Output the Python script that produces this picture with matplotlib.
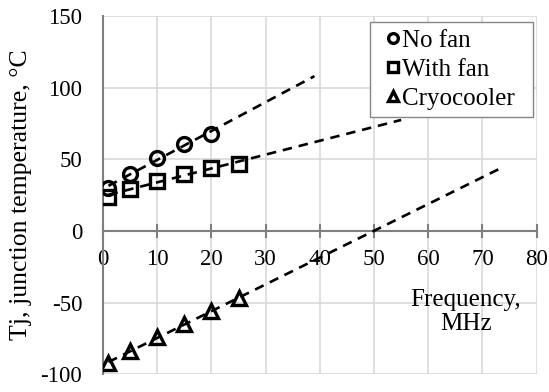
import numpy as np
import matplotlib
matplotlib.use("Agg")
import matplotlib.pyplot as plt

plt.rcParams['font.family'] = ['Liberation Serif', 'DejaVu Serif']
plt.rcParams['axes.unicode_minus'] = False

freq_nofan = [1, 5, 10, 15, 20]
tj_nofan = [30, 40, 51, 61, 68]
freq_fan = [1, 5, 10, 15, 20, 25]
tj_fan = [24, 29, 35, 40, 44, 47]
freq_cryo = [1, 5, 10, 15, 20, 25]
tj_cryo = [-92, -84, -74, -65, -56, -47]

# where the excel-style trendlines stop
trend_end = [39, 55, 73.5]

xticks = [0, 10, 20, 30, 40, 50, 60, 70, 80]
yticks = [-100, -50, 0, 50, 100, 150]

fig = plt.figure(figsize=(5.49, 3.92), dpi=100)
ax = fig.add_axes([0.1876, 0.0452, 0.79, 0.9140])

series = [
    (freq_nofan, tj_nofan, 'o', "No fan"),
    (freq_fan, tj_fan, 's', "With fan"),
    (freq_cryo, tj_cryo, '^', "Cryocooler"),
]

for (x, y, m, lab), xe in zip(series, trend_end):
    k, b = np.polyfit(x, y, 1)
    xs = np.array([x[0], xe])
    ax.plot(xs, k * xs + b, '--', color='black', lw=1.9, dashes=(3.6, 2.6), zorder=3)
    ax.plot(x, y, m, mfc='none', mec='black', mew=2.4, ms=10, ls='none',
            label=lab, zorder=4)

ax.set_xlim(0, 80)
ax.set_ylim(-100, 150)
ax.set_xticks(xticks)
ax.set_yticks(yticks)
ax.grid(color='#d9d9d9', lw=1.2)
ax.set_axisbelow(True)

for s in ['top', 'right']:
    ax.spines[s].set_visible(False)
ax.spines['bottom'].set_position(('data', 0))
ax.spines['bottom'].set_color('#7f7f7f')
ax.spines['left'].set_color('#7f7f7f')
ax.spines['bottom'].set_linewidth(1.5)
ax.spines['left'].set_linewidth(1.5)
ax.tick_params(axis='x', direction='inout', length=9.5, width=1.5, color='#7f7f7f',
               labelsize=16.5, pad=8)
ax.tick_params(axis='y', length=0, labelsize=16.5, pad=15)

ax.set_ylabel("Tj, junction temperature, \u00b0C", fontsize=18.5, labelpad=6)
ax.text(66.9, -56.5, "Frequency,\nMHz", fontsize=18, ha='center', va='center',
        linespacing=1.1)

# fixed-width legend box like excel's
leg = ax.legend(loc='upper left', bbox_to_anchor=(0.6156, 0, 0.3759, 0.983),
                mode='expand', borderaxespad=0, fontsize=18,
                handletextpad=-0.25, handlelength=1.24, borderpad=0.3,
                labelspacing=0.25, fancybox=False, framealpha=1,
                edgecolor='#868686', markerscale=0.7)
leg.get_frame().set_linewidth(1.0)

plt.savefig("out.png", dpi=100)
